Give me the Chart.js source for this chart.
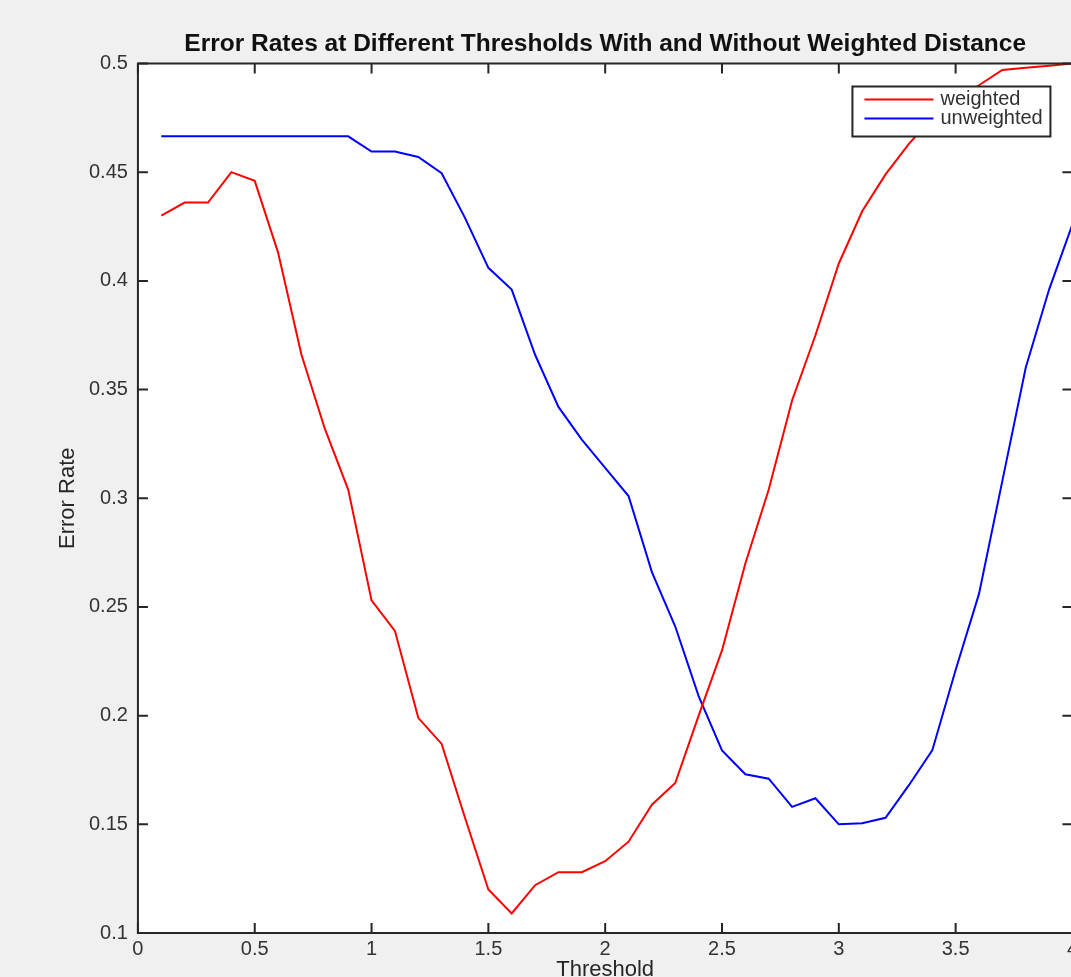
<!DOCTYPE html>
<html>
<head>
<meta charset="utf-8">
<script src="https://cdn.jsdelivr.net/npm/chart.js@4/dist/chart.umd.min.js"></script>
<style>
  html, body { margin: 0; padding: 0; background: #f0f0f0; overflow: hidden; }
  #wrap { width: 1084px; height: 1000px; }
</style>
</head>
<body>
<div id="wrap"><canvas id="errChart" width="1084" height="1000"></canvas></div>
<script>
// thresholds 0.1 .. 4.0
const thresholds = [0.1,0.2,0.3,0.4,0.5,0.6,0.7,0.8,0.9,1.0,
  1.1,1.2,1.3,1.4,1.5,1.6,1.7,1.8,1.9,2.0,
  2.1,2.2,2.3,2.4,2.5,2.6,2.7,2.8,2.9,3.0,
  3.1,3.2,3.3,3.4,3.5,3.6,3.7,3.8,3.9,4.0];

const weighted = [0.430,0.436,0.436,0.450,0.446,0.413,0.366,0.332,0.304,0.253,
  0.239,0.199,0.187,0.153,0.120,0.109,0.122,0.128,0.128,0.133,
  0.142,0.159,0.169,0.200,0.230,0.270,0.304,0.345,0.375,0.408,
  0.432,0.449,0.463,0.475,0.483,0.490,0.497,0.498,0.499,0.500];

const unweighted = [0.4665,0.4665,0.4665,0.4665,0.4665,0.4665,0.4665,0.4665,0.4665,0.4595,
  0.4595,0.457,0.4495,0.429,0.406,0.396,0.366,0.342,0.327,0.314,
  0.301,0.266,0.241,0.209,0.184,0.173,0.171,0.158,0.162,0.150,
  0.1505,0.153,0.168,0.184,0.221,0.256,0.308,0.360,0.396,0.426];

const seriesNames = ['weighted', 'unweighted'];
const seriesColors = ['#ff0000', '#0000ff'];
const xTicks = [0, 0.5, 1, 1.5, 2, 2.5, 3, 3.5, 4];
const yTicks = [0.1, 0.15, 0.2, 0.25, 0.3, 0.35, 0.4, 0.45, 0.5];

const axisColor = '#262626';
const fmt = v => String(+(+v).toFixed(2));

// white plot area + matlab style box with inward ticks
const boxPlugin = {
  id: 'box',
  beforeDraw(chart) {
    const {ctx, chartArea: a} = chart;
    ctx.save();
    ctx.fillStyle = '#ffffff';
    ctx.fillRect(a.left, a.top, a.right - a.left, a.bottom - a.top);
    ctx.restore();
  },
  afterDatasetsDraw(chart) {
    const {ctx, chartArea: a, scales: {x, y}} = chart;
    const len = 10;
    ctx.save();
    ctx.strokeStyle = axisColor;
    ctx.lineWidth = 2;
    ctx.beginPath();
    xTicks.forEach(v => {
      const px = x.getPixelForValue(v);
      ctx.moveTo(px, a.bottom); ctx.lineTo(px, a.bottom - len);
      ctx.moveTo(px, a.top); ctx.lineTo(px, a.top + len);
    });
    yTicks.forEach(v => {
      const py = y.getPixelForValue(v);
      ctx.moveTo(a.left, py); ctx.lineTo(a.left + len, py);
      ctx.moveTo(a.right, py); ctx.lineTo(a.right - len, py);
    });
    ctx.stroke();
    ctx.strokeRect(a.left, a.top, a.right - a.left, a.bottom - a.top);
    ctx.restore();
  }
};

const legendPlugin = {
  id: 'boxLegend',
  afterDraw(chart) {
    const {ctx, chartArea: a} = chart;
    const w = 198, h = 50;
    const bx = a.right - 220, by = a.top + 23;
    ctx.save();
    ctx.fillStyle = '#ffffff';
    ctx.fillRect(bx, by, w, h);
    ctx.strokeStyle = axisColor;
    ctx.lineWidth = 2;
    ctx.strokeRect(bx, by, w, h);
    ctx.font = '20px "Liberation Sans", Arial, sans-serif';
    ctx.textBaseline = 'middle';
    ctx.fillStyle = '#303030';
    chart.data.datasets.forEach((ds, i) => {
      const cy = by + 13 + i * 19;
      ctx.strokeStyle = ds.borderColor;
      ctx.lineWidth = 2;
      ctx.beginPath();
      ctx.moveTo(bx + 12, cy);
      ctx.lineTo(bx + 81, cy);
      ctx.stroke();
      ctx.fillText(ds.label, bx + 88, cy);
    });
    ctx.restore();
  }
};

const datasets = [weighted, unweighted].map((vals, i) => ({
  label: seriesNames[i],
  data: thresholds.map((t, k) => ({x: t, y: vals[k]})),
  borderColor: seriesColors[i],
  backgroundColor: seriesColors[i],
  borderWidth: 2,
  pointRadius: 0,
  tension: 0,
  fill: false
}));

new Chart(document.getElementById('errChart'), {
  type: 'line',
  data: { datasets: datasets },
  options: {
    responsive: false,
    animation: false,
    layout: { padding: { left: 0, right: 8, top: 0, bottom: 19 } },
    plugins: {
      legend: { display: false },
      tooltip: { enabled: false },
      title: {
        display: true,
        fullSize: false,
        text: 'Error Rates at Different Thresholds With and Without Weighted Distance',
        color: '#111111',
        font: { family: '"Liberation Sans", Arial, sans-serif', size: 24.5, weight: 'bold', lineHeight: 1 },
        padding: { top: 31.5, bottom: 7.5 }
      }
    },
    scales: {
      x: {
        type: 'linear',
        min: 0,
        max: 4,
        afterBuildTicks: s => { s.ticks = xTicks.map(v => ({value: v})); },
        grid: { display: false, drawTicks: false },
        border: { display: false },
        ticks: {
          color: '#333333',
          padding: 6,
          maxRotation: 0,
          autoSkip: false,
          font: { family: '"Liberation Sans", Arial, sans-serif', size: 20, lineHeight: 1 },
          callback: v => fmt(v)
        },
        title: {
          display: true,
          text: 'Threshold',
          color: '#262626',
          font: { family: '"Liberation Sans", Arial, sans-serif', size: 22, lineHeight: 1 },
          padding: { top: -6, bottom: 0 }
        }
      },
      y: {
        type: 'linear',
        min: 0.1,
        max: 0.5,
        afterBuildTicks: s => { s.ticks = yTicks.map(v => ({value: v})); },
        grid: { display: false, drawTicks: false },
        border: { display: false },
        ticks: {
          color: '#333333',
          padding: 10,
          autoSkip: false,
          font: { family: '"Liberation Sans", Arial, sans-serif', size: 20, lineHeight: 1 },
          callback: v => fmt(v)
        },
        title: {
          display: true,
          text: 'Error Rate',
          color: '#262626',
          font: { family: '"Liberation Sans", Arial, sans-serif', size: 22, lineHeight: 1 },
          padding: { top: 57, bottom: 0 }
        }
      }
    }
  },
  plugins: [boxPlugin, legendPlugin]
});
</script>
</body>
</html>
